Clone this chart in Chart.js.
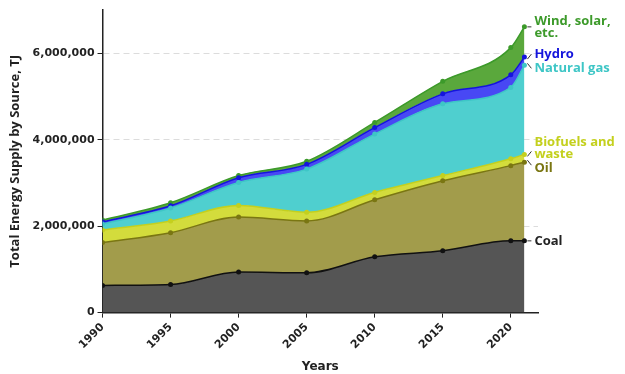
<!DOCTYPE html>
<html>
<head>
<meta charset="utf-8">
<script src="https://cdn.jsdelivr.net/npm/chart.js@4/dist/chart.umd.min.js"></script>
<style>
  html, body { margin: 0; padding: 0; background: #fff; }
  #wrap { width: 625px; height: 374px; }
</style>
</head>
<body>
<div id="wrap"><canvas id="c" width="625" height="374"></canvas></div>
<script>
// Total energy supply by source, TJ
const years = [1990, 1995, 2000, 2005, 2010, 2015, 2020, 2021];
const coal      = [630000, 650000, 940000, 920000, 1290000, 1430000, 1660000, 1660000];
const oil       = [990000, 1200000, 1270000, 1200000, 1320000, 1620000, 1740000, 1820000];
const biofuels  = [290000, 270000, 270000, 200000, 170000, 120000, 160000, 180000];
const naturalGas= [140000, 300000, 530000, 1000000, 1350000, 1660000, 1650000, 2060000];
const hydro     = [50000, 50000, 110000, 110000, 150000, 230000, 290000, 190000];
const windSolar = [40000, 70000, 50000, 70000, 120000, 290000, 630000, 700000];
const yTicks = [0, 2000000, 4000000, 6000000];

const sources = [
  { name: ['Coal'], values: coal, fill: '#555555', line: '#111111', text: '#222222', dy: 0, lead: 0 },
  { name: ['Oil'], values: oil, fill: '#a29c4b', line: '#7a7612', text: '#7a7612', dy: 6, lead: 1 },
  { name: ['Biofuels and', 'waste'], values: biofuels, fill: '#d3dc3c', line: '#c4d01e', text: '#c4d01e', dy: -12, lead: -1 },
  { name: ['Natural gas'], values: naturalGas, fill: '#4fcfcf', line: '#3ec6c6', text: '#3ec6c6', dy: 3, lead: 1 },
  { name: ['Hydro'], values: hydro, fill: '#4848f4', line: '#1414dc', text: '#1414dc', dy: -3, lead: -1 },
  { name: ['Wind, solar,', 'etc.'], values: windSolar, fill: '#5aa83c', line: '#3c9a2a', text: '#3c9a2a', dy: -6, lead: 0 }
];

const datasets = sources.map((s, i) => ({
  label: s.name.join(' '),
  data: years.map((yr, k) => ({ x: yr, y: s.values[k] })),
  backgroundColor: s.fill,
  borderColor: s.line,
  borderWidth: 1.5,
  pointRadius: 2.5,
  pointBackgroundColor: s.line,
  pointBorderColor: s.line,
  pointBorderWidth: 0,
  fill: i === 0 ? 'origin' : '-1',
  cubicInterpolationMode: 'monotone'
}));

// End-of-series labels with short leader strokes
const endLabels = {
  id: 'endLabels',
  afterDatasetsDraw(chart) {
    const ctx = chart.ctx;
    ctx.save();
    ctx.font = 'bold 13px "Open Sans", sans-serif';
    ctx.textBaseline = 'middle';
    ctx.textAlign = 'left';
    sources.forEach((s, i) => {
      const meta = chart.getDatasetMeta(i);
      const p = meta.data[meta.data.length - 1];
      const x0 = p.x + 3, x1 = p.x + 7;
      ctx.strokeStyle = '#333';
      ctx.lineWidth = 1;
      ctx.beginPath();
      if (s.lead === 0) { ctx.moveTo(x0, p.y); ctx.lineTo(x1, p.y); }
      else if (s.lead < 0) { ctx.moveTo(x0, p.y + 2); ctx.lineTo(x1, p.y - 3); }
      else { ctx.moveTo(x0, p.y - 2); ctx.lineTo(x1, p.y + 3); }
      ctx.stroke();
      ctx.fillStyle = s.text;
      const lh = 12;
      s.name.forEach((t, k) => ctx.fillText(t, x1 + 3, p.y + s.dy + k * lh));
    });
    ctx.restore();
  }
};

new Chart(document.getElementById('c'), {
  type: 'line',
  data: { datasets },
  plugins: [endLabels],
  options: {
    responsive: false,
    animation: false,
    devicePixelRatio: 1,
    layout: { padding: { top: 10, right: 87, bottom: 0, left: 7 } },
    plugins: { legend: { display: false }, tooltip: { enabled: false } },
    elements: { line: { tension: 0.4 } },
    scales: {
      x: {
        type: 'linear',
        min: 1990,
        max: 2022,
        offset: false,
        border: { display: true, color: '#222', width: 1.5 },
        grid: { drawOnChartArea: false, drawTicks: true, tickLength: 5, tickColor: '#222' },
        ticks: {
          stepSize: 5,
          includeBounds: false,
          maxRotation: 45,
          minRotation: 45,
          color: '#222',
          font: { family: 'DejaVu Sans', weight: 'bold', size: 11 },
          callback: v => String(v)
        },
        title: {
          display: true,
          text: 'Years',
          color: '#222',
          font: { family: 'DejaVu Sans', weight: 'bold', size: 12 },
          padding: { top: 5, bottom: 0 }
        }
      },
      y: {
        stacked: true,
        min: 0,
        max: 7000000,
        border: { display: true, color: '#222', width: 1.5, dash: [6, 4] },
        grid: { color: ctx => ctx.tick && ctx.tick.value === 0 ? 'rgba(0,0,0,0)' : '#dcdcdc', tickColor: '#222', tickLength: 5, tickBorderDash: [] },
        afterBuildTicks: axis => { axis.ticks = yTicks.map(v => ({ value: v })); },
        ticks: {
          color: '#222',
          padding: 3,
          font: { family: 'DejaVu Sans', weight: 'bold', size: 11 },
          callback: v => v.toLocaleString('en-US')
        },
        title: {
          display: true,
          text: 'Total Energy Supply by Source, TJ',
          color: '#222',
          font: { family: '"Open Sans"', weight: 'bold', size: 13 },
          padding: { top: 0, bottom: 7 }
        }
      }
    }
  }
});
</script>
</body>
</html>
